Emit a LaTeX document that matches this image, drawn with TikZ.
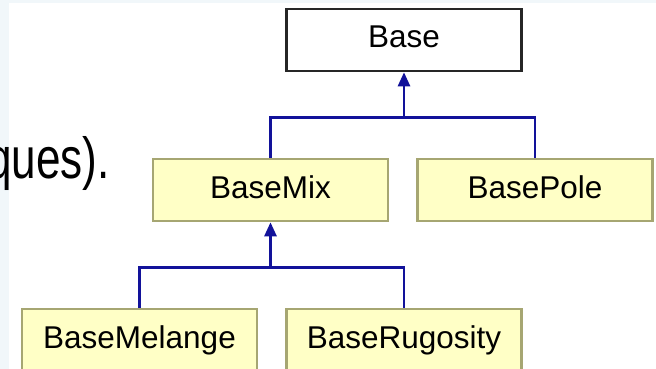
\documentclass[tikz,border=0pt]{standalone}
\usepackage{fontspec}
\setmainfont{Liberation Sans}
\usetikzlibrary{arrows.meta,calc}
\definecolor{boxfill}{HTML}{FFFFC6}
\definecolor{boxline}{HTML}{A6A672}
\definecolor{conncol}{HTML}{12129A}
\definecolor{bgblue}{HTML}{F1F7FA}
\tikzset{
  cls/.style={draw=boxline, fill=boxfill, line width=2.6pt, minimum width=235pt, minimum height=62pt,
    inner sep=0pt, text height=23pt, text depth=7pt, font=\fontsize{31.5}{36}\selectfont},
  rootcls/.style={cls, draw=black!85, fill=white},
  conn/.style={draw=conncol, line width=2.6pt},
  inh/.style={conn, -{Triangle[width=12pt,length=14pt]}},
}
\begin{document}
\begin{tikzpicture}[x=1pt,y=-1pt]
\useasboundingbox (0,0) rectangle (656,369);
\clip (0,0) rectangle (656,369);
\fill[white] (0,0) rectangle (656,369);
\fill[bgblue] (0,0) rectangle (9,369);
\fill[bgblue] (0,0) rectangle (656,3);
\node[anchor=base east, inner sep=0pt, font=\fontsize{58}{64}\selectfont] (txt) at (110,178) {\scalebox{0.76}[1]{ques).}};
\node[rootcls] (base) at (404,40) {Base};
\node[cls] (mix) at (270.5,190) {BaseMix};
\node[cls] (pole) at (535,190) {BasePole};
\node[cls] (mel) at (139.5,340) {BaseMelange};
\node[cls] (rug) at (404,340) {BaseRugosity};
\coordinate (j1) at ($(base.south)+(0,45)$);
\coordinate (j2) at ($(mix.south)+(0,45)$);
\draw[conn] (mix.north) |- (j1);
\draw[conn] (pole.north) |- (j1);
\draw[inh] (j1) -- (base.south);
\draw[conn] (mel.north) |- (j2);
\draw[conn] (rug.north) |- (j2);
\draw[inh] (j2) -- (mix.south);
\end{tikzpicture}
\end{document}
